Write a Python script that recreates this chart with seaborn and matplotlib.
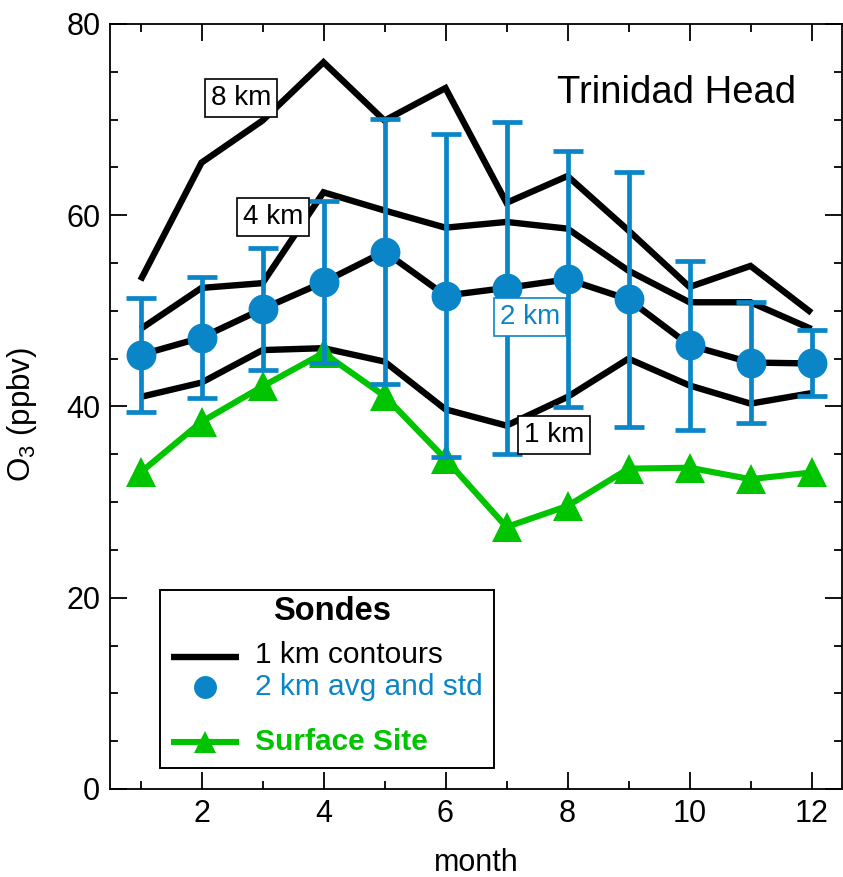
import numpy as np
import pandas as pd
import matplotlib
matplotlib.use("Agg")
import matplotlib.pyplot as plt
import seaborn as sns
from matplotlib.patches import Rectangle
from matplotlib.lines import Line2D
from matplotlib.ticker import MultipleLocator

# monthly ozone at Trinidad Head
months = list(range(1, 13))
km1 = [41.0, 42.5, 45.9, 46.1, 44.7, 39.7, 38.0, 41.0, 45.0, 42.2, 40.3, 41.4]
km4 = [48.1, 52.4, 52.9, 62.4, 60.5, 58.7, 59.3, 58.6, 54.2, 50.9, 50.9, 48.1]
km8 = [53.2, 65.5, 69.9, 76.0, 69.9, 73.3, 61.3, 64.1, 58.4, 52.5, 54.7, 49.8]
avg2km = [45.4, 47.2, 50.2, 53.0, 56.2, 51.6, 52.4, 53.3, 51.2, 46.4, 44.6, 44.5]
std2km = [5.95, 6.35, 6.4, 8.45, 13.85, 16.9, 17.35, 13.4, 13.3, 8.85, 6.35, 3.45]
surface = [33.1, 38.4, 42.1, 45.6, 41.1, 34.5, 27.4, 29.6, 33.5, 33.6, 32.4, 33.1]

contours = pd.DataFrame({
    "month": months * 4,
    "o3": km1 + avg2km + km4 + km8,
    "alt": ["1 km"] * 12 + ["2 km"] * 12 + ["4 km"] * 12 + ["8 km"] * 12,
})

BLUE = "#0a86c8"
GREEN = "#00c400"

sns.set_style("ticks")
plt.rcParams["font.family"] = ["Liberation Sans", "DejaVu Sans"]
plt.rcParams["mathtext.fontset"] = "custom"
plt.rcParams["mathtext.rm"] = "Liberation Sans"
plt.rcParams["mathtext.default"] = "regular"
for k in ["text.color", "axes.labelcolor", "xtick.color", "ytick.color", "axes.edgecolor"]:
    plt.rcParams[k] = "black"

fig = plt.figure(figsize=(8.43, 8.77), dpi=100)
ax = fig.add_axes([110 / 843, 88 / 877, 732 / 843, 765 / 877])

sns.lineplot(data=contours, x="month", y="o3", units="alt", estimator=None,
             color="black", lw=4.6, ax=ax, zorder=2,
             solid_joinstyle="miter", solid_capstyle="butt")

sns.lineplot(x=months, y=surface, color=GREEN, lw=4.4, marker="^", ms=22,
             markeredgewidth=0, ax=ax, zorder=3, solid_joinstyle="miter")

ax.errorbar(months, avg2km, yerr=std2km, fmt="none", ecolor=BLUE,
            elinewidth=3.4, capsize=11, capthick=3.4, zorder=4)
ax.plot(months, avg2km, "o", color=BLUE, ms=21.5, mew=0, zorder=5)

# contour labels
lab = dict(fontsize=20, ha="center", va="center", zorder=7)
box = "square,pad=0.22"
ax.text(2.65, 72.3, "8 km", color="black",
        bbox=dict(boxstyle=box, fc="white", ec="black", lw=1.2), **lab)
ax.text(3.17, 59.8, "4 km", color="black",
        bbox=dict(boxstyle=box, fc="white", ec="black", lw=1.2), **lab)
ax.text(7.385, 49.4, "2 km", color=BLUE,
        bbox=dict(boxstyle=box, fc="white", ec=BLUE, lw=1.2), **lab)
ax.text(7.78, 37.0, "1 km", color="black",
        bbox=dict(boxstyle=box, fc="white", ec="black", lw=1.2), **lab)

ax.text(0.6107, 0.8963, "Trinidad Head", transform=ax.transAxes,
        fontsize=27.5, ha="left", va="baseline")

# legend box drawn by hand
T = ax.transAxes
ax.add_patch(Rectangle((0.0683, 0.027), 0.4563, 0.233, transform=T,
                       fc="white", ec="black", lw=1.4, zorder=8))
ax.text(0.304, 0.2209, "Sondes", transform=T, fontsize=23.5, fontweight="bold",
        ha="center", va="baseline", zorder=9)
ax.add_line(Line2D([0.0829, 0.1767], [0.1722, 0.1722], transform=T,
                   color="black", lw=4.6, solid_capstyle="butt", zorder=9))
ax.text(0.198, 0.1643, "1 km contours", transform=T, fontsize=21.5,
        ha="left", va="baseline", zorder=9)
ax.add_line(Line2D([0.1298], [0.1327], transform=T, marker="o", ms=16.5,
                   color=BLUE, mew=0, zorder=9))
ax.text(0.198, 0.1229, "2 km avg and std", transform=T, fontsize=21.5,
        color=BLUE, ha="left", va="baseline", zorder=9)
ax.add_line(Line2D([0.0829, 0.1767], [0.0618, 0.0618], transform=T,
                   color=GREEN, lw=4.4, solid_capstyle="butt", zorder=9))
ax.add_line(Line2D([0.1298], [0.0618], transform=T, marker="^", ms=16.5,
                   color=GREEN, mew=0, zorder=9))
ax.text(0.198, 0.051, "Surface Site", transform=T, fontsize=21.5,
        fontweight="bold", color=GREEN, ha="left", va="baseline", zorder=9)

ax.set_xlim(0.5, 12.5)
ax.set_ylim(0, 80)
ax.xaxis.set_major_locator(MultipleLocator(2))
ax.xaxis.set_minor_locator(MultipleLocator(1))
ax.yaxis.set_major_locator(MultipleLocator(20))
ax.yaxis.set_minor_locator(MultipleLocator(5))
ax.tick_params(which="both", direction="in", top=True, right=True,
               width=1.3, labelsize=22, pad=7)
ax.tick_params(which="major", length=12)
ax.tick_params(which="minor", length=6)
for s in ax.spines.values():
    s.set_linewidth(1.3)

ax.set_xlabel("month", fontsize=22)
ax.set_ylabel("O$_3$ (ppbv)", fontsize=22.5)
ax.xaxis.set_label_coords(0.5, -0.077)
ax.yaxis.set_label_coords(-0.097, 0.49)

fig.savefig("out.png", dpi=100)
